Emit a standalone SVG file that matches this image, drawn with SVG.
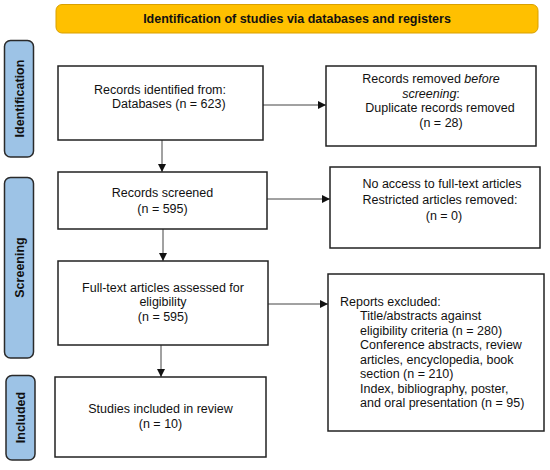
<svg xmlns="http://www.w3.org/2000/svg" width="550" height="470" viewBox="0 0 550 470">
<defs>
<style>
text{font-family:"Liberation Sans",Arial,sans-serif;font-size:12.5px;fill:#111}
.b{font-weight:bold}
.m{text-anchor:middle}
.box{fill:#fff;stroke:#222;stroke-width:1.5}
.side{fill:#9dc3e6;stroke:#2a2a2a;stroke-width:1.5}
.conn{stroke:#444;stroke-width:1;fill:none;marker-end:url(#ah)}
</style>
<marker id="ah" viewBox="0 0 10 10" refX="10" refY="5" markerWidth="8" markerHeight="8" markerUnits="userSpaceOnUse" orient="auto">
<path d="M0,0 L10,5 L0,10 Z" fill="#111"/>
</marker>
</defs>
<rect width="550" height="470" fill="#fff"/>
<g id="banner">
<rect x="56" y="4.5" width="482" height="28.5" rx="6" fill="#ffc000" stroke="#d9a000" stroke-width="1"/>
<text class="b m" x="297" y="23">Identification of studies via databases and registers</text>
</g>
<g id="lbl-identification">
<rect class="side" x="4.5" y="40.5" width="29" height="116.5" rx="6"/>
<text class="b m" transform="translate(23.5,98.5) rotate(-90)">Identification</text>
</g>
<g id="lbl-screening">
<rect class="side" x="4.5" y="177.5" width="29" height="180.5" rx="6"/>
<text class="b m" transform="translate(23.5,267.5) rotate(-90)">Screening</text>
</g>
<g id="lbl-included">
<rect class="side" x="6" y="375.5" width="29" height="84.5" rx="6"/>
<text class="b m" transform="translate(25,417.5) rotate(-90)">Included</text>
</g>
<g id="connectors">
<line class="conn" x1="263" y1="105" x2="326" y2="105"/>
<line class="conn" x1="267" y1="199" x2="330" y2="199"/>
<line class="conn" x1="268" y1="304" x2="328" y2="304"/>
<line class="conn" x1="162" y1="140" x2="162" y2="172"/>
<line class="conn" x1="163" y1="229" x2="163" y2="261"/>
<line class="conn" x1="161" y1="345" x2="161" y2="377"/>
</g>
<g id="n-identified">
<rect class="box" x="58" y="66" width="205" height="74"/>
<text x="94" y="94">Records identified from:</text>
<text x="112" y="108">Databases (n = 623)</text>
</g>
<g id="n-removed">
<rect class="box" x="326" y="66" width="210" height="80"/>
<text class="m" x="431" y="83">Records removed <tspan font-style="italic">before</tspan></text>
<text class="m" x="431" y="97.5"><tspan font-style="italic">screening</tspan>:</text>
<text class="m" x="440" y="112">Duplicate records removed</text>
<text class="m" x="441" y="126.5">(n = 28)</text>
</g>
<g id="n-screened">
<rect class="box" x="58" y="172" width="209" height="57"/>
<text class="m" x="162.5" y="197">Records screened</text>
<text class="m" x="162.5" y="213">(n = 595)</text>
</g>
<g id="n-noaccess">
<rect class="box" x="330" y="167" width="210" height="81"/>
<text class="m" x="442" y="188">No access to full-text articles</text>
<text class="m" x="440" y="204">Restricted articles removed:</text>
<text class="m" x="444" y="220">(n = 0)</text>
</g>
<g id="n-fulltext">
<rect class="box" x="58" y="261" width="210" height="84"/>
<text class="m" x="163" y="291.5">Full-text articles assessed for</text>
<text class="m" x="163" y="306">eligibility</text>
<text class="m" x="163" y="320.5">(n = 595)</text>
</g>
<g id="n-excluded">
<rect class="box" x="328" y="274" width="216" height="157"/>
<text x="340" y="306">Reports excluded:</text>
<text x="360" y="320">Title/abstracts against</text>
<text x="360" y="334.5">eligibility criteria (n = 280)</text>
<text x="360" y="349">Conference abstracts, review</text>
<text x="360" y="363.5">articles, encyclopedia, book</text>
<text x="360" y="378">section (n = 210)</text>
<text x="360" y="392.5">Index, bibliography, poster,</text>
<text x="360" y="407">and oral presentation (n = 95)</text>
</g>
<g id="n-included">
<rect class="box" x="55" y="377" width="211" height="80"/>
<text class="m" x="160.5" y="413">Studies included in review</text>
<text class="m" x="160.5" y="428">(n = 10)</text>
</g>
</svg>
